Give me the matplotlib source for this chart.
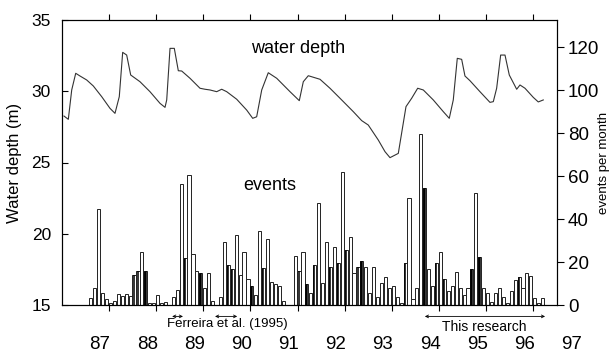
import numpy as np
import matplotlib
matplotlib.use("Agg")
import matplotlib.pyplot as plt
from matplotlib.transforms import blended_transform_factory

plt.rcParams["font.family"] = ["Liberation Sans", "DejaVu Sans"]

# ---- data ----
# water depth (m) vs decimal year
depth_year = [86.236, 86.328, 86.400, 86.485, 86.576, 86.718, 86.858, 87.036, 87.212, 87.318,
              87.409, 87.481, 87.566, 87.651, 87.848, 88.060, 88.273, 88.379, 88.415, 88.485,
              88.576, 88.661, 88.733, 88.909, 89.121, 89.227, 89.333, 89.475, 89.581, 89.687,
              89.899, 90.111, 90.239, 90.323, 90.430, 90.569, 90.748, 91.030, 91.227, 91.312,
              91.418, 91.596, 91.666, 91.878, 92.090, 92.372, 92.550, 92.690, 92.902, 93.045,
              93.151, 93.327, 93.490, 93.611, 93.738, 93.857, 94.069, 94.281, 94.408, 94.493,
              94.578, 94.671, 94.741, 94.847, 95.059, 95.271, 95.342, 95.413, 95.498, 95.590,
              95.681, 95.838, 95.908, 96.014, 96.190, 96.296, 96.402]
depth_m = [28.26, 28.03, 30.09, 31.26, 31.07, 30.79, 30.37, 29.62, 28.80, 28.45,
           29.62, 32.73, 32.54, 31.14, 30.67, 29.97, 29.15, 28.87, 29.39, 33.01,
           33.01, 31.44, 31.42, 30.91, 30.21, 30.14, 30.09, 29.97, 30.14, 29.97,
           29.44, 28.68, 28.10, 28.21, 30.09, 31.30, 30.91, 29.97, 29.34, 30.67,
           31.09, 30.91, 30.84, 30.21, 29.51, 28.57, 27.94, 27.63, 26.58, 25.76,
           25.34, 25.64, 28.92, 29.51, 30.21, 30.09, 29.39, 28.57, 28.10, 29.39,
           32.31, 32.24, 31.07, 30.74, 29.97, 29.22, 29.27, 30.21, 32.54, 32.54,
           31.14, 30.14, 30.44, 30.21, 29.57, 29.25, 29.39]

# monthly events, first month centred at start_year
start_year = 86.805
events = [3.3, 8, 44.6, 5.7, 3, 0.7, 1.7, 5, 4, 5, 4, 13.8, 15.8, 24.8, 15.8, 0.7, 0.7, 4.6, 1, 1.5,
          0, 3.9, 7, 56.3, 21.7, 60.5, 23.7, 15.8, 14.7, 7.8, 14.7, 1.9, 0, 3.9, 29.5, 18.6, 16.6, 32.6, 14, 24.8,
          12, 8.8, 4.6, 34.5, 17, 30.5, 10.9, 10, 8.8, 1.9, 0, 0, 22.8, 16, 24.8, 9.8, 5.6, 18.6, 47.3, 10.4,
          29.5, 17.8, 26.8, 19.7, 62, 25.6, 31.5, 14.7, 17.8, 20.5, 17.8, 5.4, 17.8, 3.9, 10.4, 12.9, 7.8, 8.8, 3.9, 1,
          19.7, 49.6, 2.8, 7.8, 79.4, 54.3, 16.6, 8.8, 19.7, 24.8, 12, 6.7, 8.8, 15.5, 7.8, 4.6, 8, 16.6, 52.3, 22.5,
          7.8, 5.4, 1.6, 5.4, 7.8, 3.9, 0.8, 6.7, 11.6, 12.9, 7.8, 14.7, 13.5, 3.1, 0.8, 3.1]
dark_months = [11, 12, 14, 24, 28, 35, 36, 41, 44, 53, 55, 57, 61, 63, 65, 68, 69, 80, 85, 88, 90, 97, 99, 109]

year_labels = ["87", "88", "89", "90", "91", "92", "93", "94", "95", "96", "97"]
year_label_pos = [87, 88, 89, 90, 91, 92, 93, 94, 95, 96, 97]
year_tick_pos = [87.19, 88.19, 89.19, 90.19, 91.19, 92.19, 93.19, 94.19, 95.19, 96.19]
depth_ticks = [15, 20, 25, 30, 35]
event_ticks = [0, 20, 40, 60, 80, 100, 120]

ferreira_spans = [(88.53, 88.76), (89.44, 89.91)]
research_span = (93.89, 96.44)

# ---- figure ----
fig = plt.figure(figsize=(6.11, 3.54), dpi=100)
ax = fig.add_axes([62/611, 1-305/354, (557-62)/611, (305-20)/354])
ax2 = ax.twinx()

months_x = start_year + np.arange(len(events)) / 12.0
ax2.bar(months_x, events, width=0.066, facecolor="white", edgecolor="#222222", linewidth=0.7)
dark_x = [months_x[i] - 0.018 for i in dark_months]
dark_h = [events[i] for i in dark_months]
ax2.bar(dark_x, dark_h, width=0.025, facecolor="black", edgecolor="black", linewidth=0.4)

ax.plot(depth_year, depth_m, color="#333333", linewidth=0.8)
ax.set_zorder(ax2.get_zorder() + 1)
ax.patch.set_visible(False)

ax.set_xlim(86.194, 96.693)
ax.set_ylim(15, 35)
ax2.set_ylim(0, 132.6)

ax.set_yticks(depth_ticks)
ax.tick_params(axis="y", direction="in", length=4, labelsize=12.5, pad=8)
ax2.set_yticks(event_ticks)
ax2.tick_params(axis="y", direction="out", length=5, labelsize=13.5, pad=3)

ax.set_xticks(year_tick_pos)
ax.set_xticklabels([])
ax.tick_params(axis="x", direction="out", length=4, top=True, bottom=True)
ax2.tick_params(axis="x", top=False, bottom=False)

ax.set_ylabel("Water depth (m)", fontsize=12)
ax.yaxis.set_label_coords(-0.08, 0.5)
ax2.set_ylabel("events per month", fontsize=9.5)
ax2.yaxis.set_label_coords(1.083, 0.5)

for sp in ["left", "right", "top", "bottom"]:
    ax.spines[sp].set_linewidth(0.8)
    ax2.spines[sp].set_linewidth(0.8)

trans = blended_transform_factory(ax.transData, ax.transAxes)
for lbl, pos in zip(year_labels, year_label_pos):
    ax.text(pos, -0.138, lbl, transform=trans, ha="center", va="center",
            fontsize=13.5, clip_on=False)

ax.text(91.2, 0.9, "water depth", transform=trans, ha="center",
        va="center", fontsize=13)
ax.text(90.6, 0.418, "events", transform=trans, ha="center", va="center", fontsize=13)

# annotations below axis
for a, b in ferreira_spans:
    ax.annotate("", xy=(a, -0.04), xytext=(b, -0.04), xycoords=trans, textcoords=trans,
                arrowprops=dict(arrowstyle="<->", lw=0.6, color="black",
                                shrinkA=0, shrinkB=0, mutation_scale=5),
                annotation_clip=False)
ax.text(89.7, -0.065, "Ferreira et al. (1995)", transform=trans, ha="center", va="center",
        fontsize=9.5, clip_on=False)
ax.annotate("", xy=(research_span[0], -0.04), xytext=(research_span[1], -0.04),
            xycoords=trans, textcoords=trans,
            arrowprops=dict(arrowstyle="<->", lw=0.6, color="black",
                            shrinkA=0, shrinkB=0, mutation_scale=5),
            annotation_clip=False)
ax.text(95.15, -0.078, "This research", transform=trans, ha="center", va="center",
        fontsize=10, clip_on=False)

fig.savefig("out.png", dpi=100)
